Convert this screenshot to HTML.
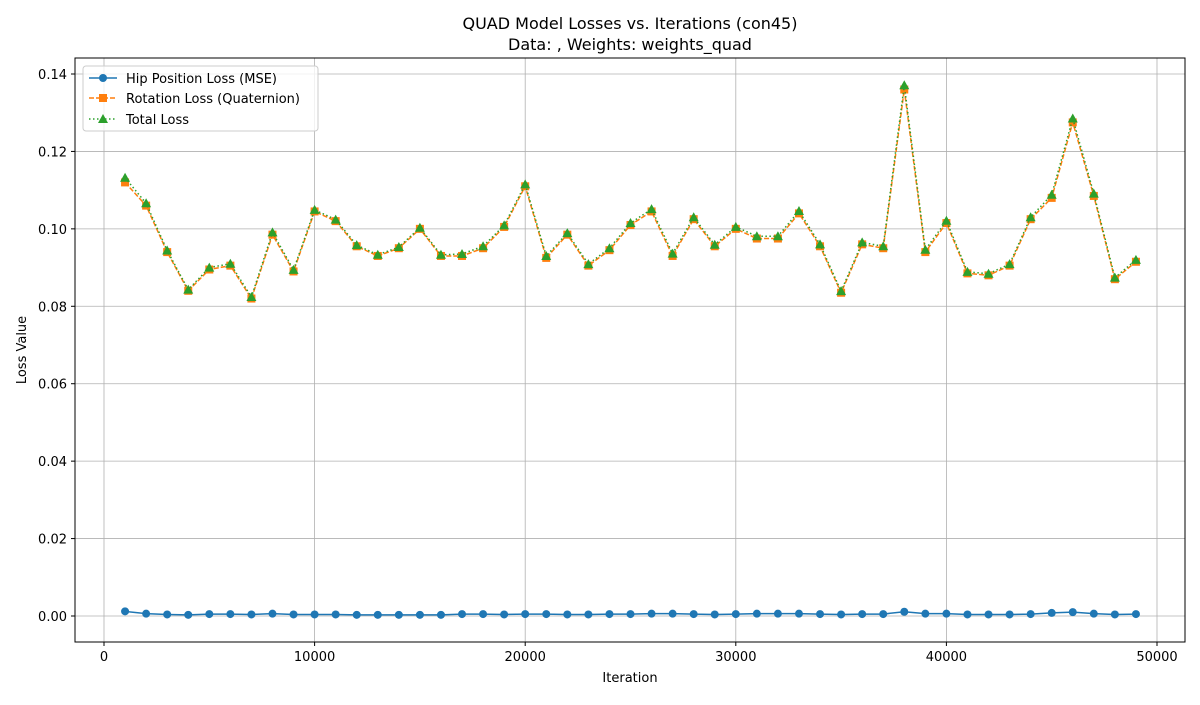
<!DOCTYPE html>
<html><head><meta charset="utf-8"><style>
body{margin:0;background:#fff;font-family:"Liberation Sans","DejaVu Sans",sans-serif;}
svg text{font-family:"DejaVu Sans","Liberation Sans",sans-serif;}
</style></head><body>
<svg id="chart" width="1200" height="700" xmlns="http://www.w3.org/2000/svg">
<text x="630" y="29" text-anchor="middle" font-size="16">QUAD Model Losses vs. Iterations (con45)</text>
<text x="630" y="50" text-anchor="middle" font-size="16">Data: , Weights: weights_quad</text>
<g id="grid"></g><g id="axes"></g><g id="series"></g>
<rect x="75" y="58" width="1110" height="584" fill="none" stroke="#000" stroke-width="1"/>
<text x="630" y="682" text-anchor="middle" font-size="13">Iteration</text>
<text transform="translate(26,350) rotate(-90)" text-anchor="middle" font-size="13">Loss Value</text>
<g>
<rect x="83" y="66" width="235" height="65" rx="3" fill="#fff" fill-opacity="0.8" stroke="#ccc"/>
<g><line x1="89" y1="78" x2="117" y2="78" stroke="#1f77b4" stroke-width="1.5"/><circle cx="103" cy="78" r="4" fill="#1f77b4"/><text x="126" y="83" font-size="13">Hip Position Loss (MSE)</text></g>
<g><line x1="89" y1="98" x2="117" y2="98" stroke="#ff7f0e" stroke-width="1.5" stroke-dasharray="5,2"/><rect x="99" y="94" width="8" height="8" fill="#ff7f0e"/><text x="126" y="103" font-size="13">Rotation Loss (Quaternion)</text></g>
<g><line x1="89" y1="119" x2="117" y2="119" stroke="#2ca02c" stroke-width="1.5" stroke-dasharray="1.5,2.5"/><polygon points="103,114 108,123 98,123" fill="#2ca02c"/><text x="126" y="124" font-size="13">Total Loss</text></g>
</g>
</svg>
<script>
const iterations=[];for(let i=1;i<=49;i++)iterations.push(i*1000);
const rotationLoss=[0.112,0.106,0.094,0.084,0.0895,0.0905,0.082,0.0985,0.089,0.1045,0.102,0.0955,0.093,0.095,0.100,0.093,0.093,0.095,0.1005,0.111,0.0925,0.0985,0.0905,0.0945,0.101,0.1045,0.093,0.1025,0.0955,0.100,0.0975,0.0975,0.104,0.0955,0.0835,0.096,0.095,0.136,0.094,0.1015,0.0885,0.088,0.0905,0.1025,0.108,0.1275,0.1085,0.087,0.0915];
const hipLoss=[0.0012,0.0006,0.0004,0.0003,0.0005,0.0005,0.0004,0.0006,0.0004,0.0004,0.0004,0.0003,0.0003,0.0003,0.0003,0.0003,0.0005,0.0005,0.0004,0.0005,0.0005,0.0004,0.0004,0.0005,0.0005,0.0006,0.0006,0.0005,0.0004,0.0005,0.0006,0.0006,0.0006,0.0005,0.0004,0.0005,0.0005,0.0011,0.0006,0.0006,0.0004,0.0004,0.0004,0.0005,0.0008,0.0010,0.0006,0.0004,0.0005];
const totalLoss=rotationLoss.map((r,i)=>r+hipLoss[i]);
const xTicks=[0,10000,20000,30000,40000,50000];
const yTicks=[0,0.02,0.04,0.06,0.08,0.10,0.12,0.14];
const NS="http://www.w3.org/2000/svg";
const X=v=>104+v*(1053/50000);
const Y=v=>616-v*(542/0.14);
function mk(tag,attrs,parent){const e=document.createElementNS(NS,tag);for(const k in attrs)e.setAttribute(k,attrs[k]);parent.appendChild(e);return e;}
const grid=document.getElementById('grid'),axes=document.getElementById('axes'),ser=document.getElementById('series');
xTicks.forEach(t=>{
 const l=mk('line',{x1:X(t),x2:X(t),y1:58,y2:642,stroke:'#b0b0b0','stroke-width':0.8},grid);
 
 
 mk('line',{x1:X(t),x2:X(t),y1:642,y2:646,stroke:'#000'},axes);
 const tx=mk('text',{x:X(t),y:661,'text-anchor':'middle','font-size':13},axes);tx.textContent=t;
 
 
});
yTicks.forEach(t=>{
 const l=mk('line',{x1:75,x2:1185,y1:Y(t),y2:Y(t),stroke:'#b0b0b0','stroke-width':0.8},grid);
 
 
 mk('line',{x1:71,x2:75,y1:Y(t),y2:Y(t),stroke:'#000'},axes);
 const tx=mk('text',{x:67,y:Y(t)+5,'text-anchor':'end','font-size':13},axes);tx.textContent=t.toFixed(2);
 
 
});
function series(vals,color,dash,marker,name){
 const g=mk('g',{},ser);
 
 
 mk('polyline',{points:vals.map((v,i)=>X(iterations[i])+','+Y(v)).join(' '),fill:'none',stroke:color,'stroke-width':1.5,'stroke-dasharray':dash},g);
 vals.forEach((v,i)=>{const x=X(iterations[i]),y=Y(v);let m;
  if(marker==='o')m=mk('circle',{cx:x,cy:y,r:4,fill:color},g);
  else if(marker==='s')m=mk('rect',{x:x-4,y:y-4,width:8,height:8,fill:color},g);
  else m=mk('polygon',{points:`${x},${y-5} ${x+5},${y+4} ${x-5},${y+4}`,fill:color},g);
  
  
 });
}
series(hipLoss,'#1f77b4','none','o','hip-loss-series');
series(rotationLoss,'#ff7f0e','5,2','s','rotation-loss-series');
series(totalLoss,'#2ca02c','1.5,2.5','^','total-loss-series');
</script>
</body></html>
